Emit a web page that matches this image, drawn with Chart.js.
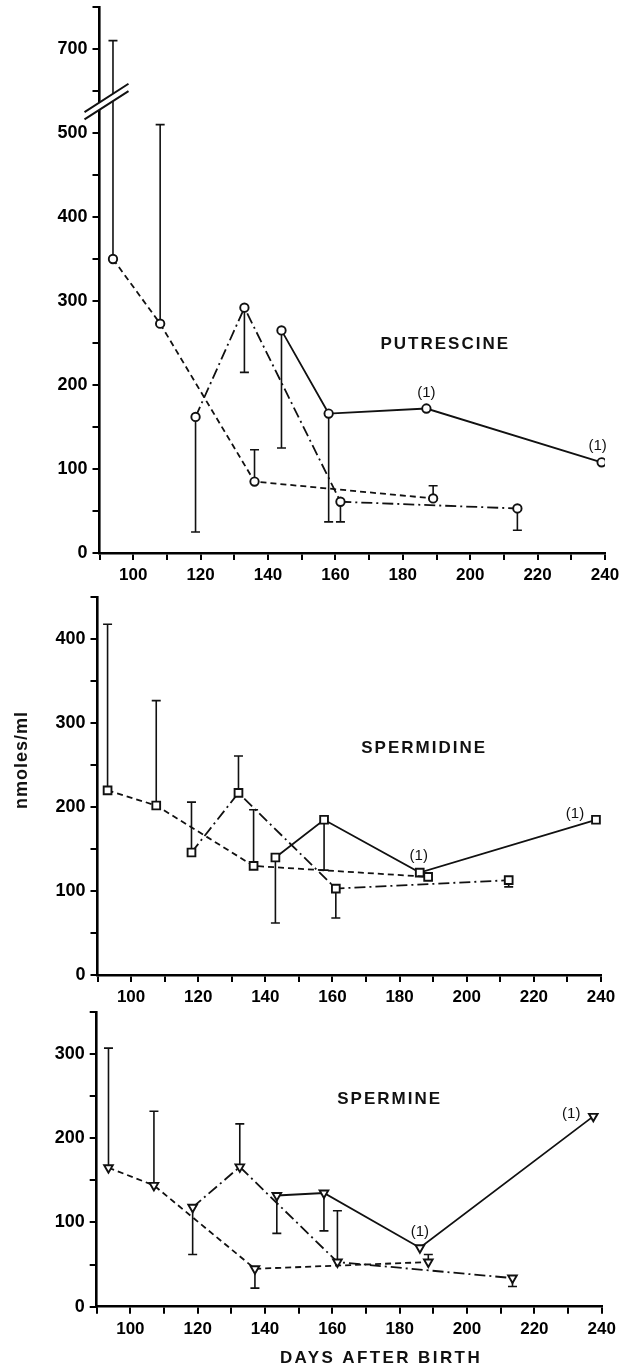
<!DOCTYPE html>
<html>
<head>
<meta charset="utf-8">
<script src="https://cdn.jsdelivr.net/npm/chart.js@4.4.1/dist/chart.umd.min.js"></script>
<style>
html, body { margin: 0; padding: 0; background: #fff; }
#wrap { position: relative; width: 624px; height: 1370px; }
.panel { position: absolute; left: 0; width: 624px; }
</style>
</head>
<body>
<div id="wrap">
  <div class="panel" style="top:0;height:590px"><canvas id="c1"></canvas></div>
  <div class="panel" style="top:590px;height:415px"><canvas id="c2"></canvas></div>
  <div class="panel" style="top:1005px;height:365px"><canvas id="c3"></canvas></div>
</div>
<script>
// putrescine
const putDashX = [94, 108, 136, 189];
const putDashY = [350, 273, 85, 65];
const putDashErr = [710, 510, 123, 80];
const putDotX = [118.5, 133, 161.5, 214];
const putDotY = [162, 292, 61, 53];
const putDotErr = [25, 215, 37, 27];
const putSolidX = [144, 158, 187, 239];
const putSolidY = [265, 166, 172, 108];
const putSolidErr = [125, 37, null, null];
const putSolidNotes = ['', '', '(1)', '(1)'];

// spermidine
const spdDashX = [93, 107.5, 136.5, 188.5];
const spdDashY = [220, 202, 130, 117];
const spdDashErr = [418, 327, 197, null];
const spdDotX = [118, 132, 161, 212.5];
const spdDotY = [146, 217, 103, 113];
const spdDotErr = [206, 261, 68, 105];
const spdSolidX = [143, 157.5, 186, 238.5];
const spdSolidY = [140, 185, 122, 185];
const spdSolidErr = [62, 125, null, null];
const spdSolidNotes = ['', '', '(1)', '(1)'];

// spermine
const spmDashX = [93.5, 107, 137, 188.5];
const spmDashY = [165, 144, 45, 53];
const spmDashErr = [307, 232, 22, 62];
const spmDotX = [118.5, 132.5, 161.5, 213.5];
const spmDotY = [118, 166, 53, 34];
const spmDotErr = [62, 217, 114, 24];
const spmSolidX = [143.5, 157.5, 186, 237.5];
const spmSolidY = [132, 135, 70, 226];
const spmSolidErr = [87, 90, null, null];
const spmSolidNotes = ['', '', '(1)', '(1)'];

const xTicksShown = [100, 120, 140, 160, 180, 200, 220, 240];

const INK = '#111';
const DASH = [6, 4];
const DASHDOT = [11, 4, 2, 4];
const FONT = 'Liberation Sans';

// top panel has a broken axis: 550..650 is cut out
const noBreak = v => v;
const putBreak = v => v > 550 ? v - 100 : v;

function mk(xs, ys, errs, style, dash, notes, fy) {
  return {
    data: xs.map((v, i) => ({ x: v, y: fy(ys[i]) })),
    err: errs.map(e => e == null ? null : fy(e)),
    notes: notes || [],
    borderColor: INK, borderWidth: 1.8, borderDash: dash,
    pointStyle: style,
    pointRadius: style === 'circle' ? 4.2 : style === 'rect' ? 5.5 : 5,
    pointRotation: style === 'triangle' ? 180 : 0,
    pointBorderWidth: 1.9, pointBorderColor: INK, pointBackgroundColor: '#fff',
    fill: false, tension: 0
  };
}

const extras = {
  id: 'extras',
  beforeDatasetsDraw(chart) {
    const { ctx, scales: { x, y } } = chart;
    ctx.save();
    ctx.strokeStyle = INK; ctx.lineWidth = 1.6; ctx.setLineDash([]);
    chart.data.datasets.forEach(ds => {
      ds.err.forEach((e, i) => {
        if (e == null) return;
        const p = ds.data[i];
        const px = x.getPixelForValue(p.x);
        const y0 = y.getPixelForValue(p.y), y1 = y.getPixelForValue(e);
        ctx.beginPath();
        ctx.moveTo(px, y0); ctx.lineTo(px, y1);
        ctx.moveTo(px - 4.5, y1); ctx.lineTo(px + 4.5, y1);
        ctx.stroke();
      });
    });
    ctx.restore();
  },
  afterDatasetsDraw(chart, args, o) {
    const { ctx, scales: { x, y }, chartArea } = chart;
    ctx.save();
    ctx.fillStyle = INK;
    // (1) notes
    ctx.font = '15px "' + FONT + '"';
    ctx.textAlign = 'center'; ctx.textBaseline = 'middle';
    chart.data.datasets.forEach(ds => {
      ds.notes.forEach((n, i) => {
        if (!n) return;
        const off = (o.noteOff && o.noteOff[i]) || [0, -16];
        ctx.fillText(n, x.getPixelForValue(ds.data[i].x) + off[0], y.getPixelForValue(ds.data[i].y) + off[1]);
      });
    });
    // panel name
    if (o.label) {
      ctx.font = 'bold 17px "' + FONT + '"';
      ctx.letterSpacing = '2px';
      ctx.fillText(o.label.text, x.getPixelForValue(o.label.x), y.getPixelForValue(o.label.y));
    }
    if (o.xTitle) {
      ctx.font = 'bold 17px "' + FONT + '"';
      ctx.letterSpacing = '2.4px';
      ctx.fillText(o.xTitle.text, o.xTitle.px, o.xTitle.py);
    }
    if (o.yTitle) {
      ctx.font = 'bold 18px "' + FONT + '"';
      ctx.letterSpacing = '1px';
      ctx.translate(o.yTitle.px, o.yTitle.py);
      ctx.rotate(-Math.PI / 2);
      ctx.fillText(o.yTitle.text, 0, 0);
      ctx.setTransform(1, 0, 0, 1, 0, 0);
    }
    ctx.letterSpacing = '0px';
    // axis break
    if (o.breakAt != null) {
      const ax = chartArea.left, yc = y.getPixelForValue(o.breakAt);
      const k = -0.643, g = 3.7, x0 = ax - 15, x1 = ax + 29;
      const yy = (X, s) => yc + s * g + k * (X - ax);
      ctx.fillStyle = '#fff';
      ctx.beginPath();
      ctx.moveTo(x0, yy(x0, -1)); ctx.lineTo(x1, yy(x1, -1));
      ctx.lineTo(x1, yy(x1, 1)); ctx.lineTo(x0, yy(x0, 1));
      ctx.closePath(); ctx.fill();
      ctx.strokeStyle = INK; ctx.lineWidth = 2;
      ctx.beginPath();
      ctx.moveTo(x0, yy(x0, -1)); ctx.lineTo(x1, yy(x1, -1));
      ctx.moveTo(x0, yy(x0, 1)); ctx.lineTo(x1, yy(x1, 1));
      ctx.stroke();
    }
    ctx.restore();
  }
};

function makeChart(id, datasets, ymax, yLabel, geo, ex) {
  const xFont = { family: FONT, size: 17, weight: 'bold' };
  const yFont = { family: FONT, size: 18, weight: 'bold' };
  const grid = { drawOnChartArea: false, drawTicks: true, tickLength: 7, lineWidth: 2, color: '#000' };
  const border = { display: true, width: 2.6, color: '#000' };
  return new Chart(document.getElementById(id), {
    type: 'line',
    data: { datasets },
    plugins: [extras],
    options: {
      responsive: true, maintainAspectRatio: false, animation: false,
      layout: { padding: { top: geo.top, right: geo.right, left: 0, bottom: 0 } },
      plugins: { legend: { display: false }, tooltip: { enabled: false }, extras: ex },
      scales: {
        x: {
          type: 'linear', min: 90, max: 240,
          grid, border,
          ticks: {
            stepSize: 10, autoSkip: false, maxRotation: 0, color: '#000', font: xFont, padding: 5,
            callback: v => xTicksShown.includes(v) ? String(v) : ''
          },
          afterFit(s) { s.height = geo.xh; s.paddingLeft = 0; s.paddingRight = 0; }
        },
        y: {
          min: 0, max: ymax,
          grid, border,
          ticks: { stepSize: 50, autoSkip: false, color: '#000', font: yFont, padding: 5, callback: yLabel },
          afterFit(s) { s.width = geo.left; s.paddingTop = 0; s.paddingBottom = 0; }
        }
      }
    }
  });
}

const hundreds = top => v => (v % 100 === 0 && v <= top) ? String(v) : '';

makeChart('c1', [
  mk(putDashX, putDashY, putDashErr, 'circle', DASH, null, putBreak),
  mk(putDotX, putDotY, putDotErr, 'circle', DASHDOT, null, putBreak),
  mk(putSolidX, putSolidY, putSolidErr, 'circle', [], putSolidNotes, putBreak)
], 650, v => v === 600 ? '700' : hundreds(500)(v),
  { top: 7, right: 19, left: 99.5, xh: 37 },
  { label: { text: 'PUTRESCINE', x: 192.6, y: 249 }, breakAt: 532, noteOff: { 2: [0, -16], 3: [-4, -16] } });

makeChart('c2', [
  mk(spdDashX, spdDashY, spdDashErr, 'rect', DASH, null, noBreak),
  mk(spdDotX, spdDotY, spdDotErr, 'rect', DASHDOT, null, noBreak),
  mk(spdSolidX, spdSolidY, spdSolidErr, 'rect', [], spdSolidNotes, noBreak)
], 450, hundreds(400),
  { top: 5.7, right: 23, left: 97.5, xh: 30 },
  { label: { text: 'SPERMIDINE', x: 187.3, y: 270 }, yTitle: { text: 'nmoles/ml', px: 22, py: 170 },
    noteOff: { 2: [-1, -17], 3: [-21, -6] } });

makeChart('c3', [
  mk(spmDashX, spmDashY, spmDashErr, 'triangle', DASH, null, noBreak),
  mk(spmDotX, spmDotY, spmDotErr, 'triangle', DASHDOT, null, noBreak),
  mk(spmSolidX, spmSolidY, spmSolidErr, 'triangle', [], spmSolidNotes, noBreak)
], 350, hundreds(300),
  { top: 6, right: 22.3, left: 96.7, xh: 63.3 },
  { label: { text: 'SPERMINE', x: 177, y: 246 }, xTitle: { text: 'DAYS AFTER BIRTH', px: 381, py: 353 },
    noteOff: { 2: [0, -16], 3: [-22, -2] } });
</script>
</body>
</html>
